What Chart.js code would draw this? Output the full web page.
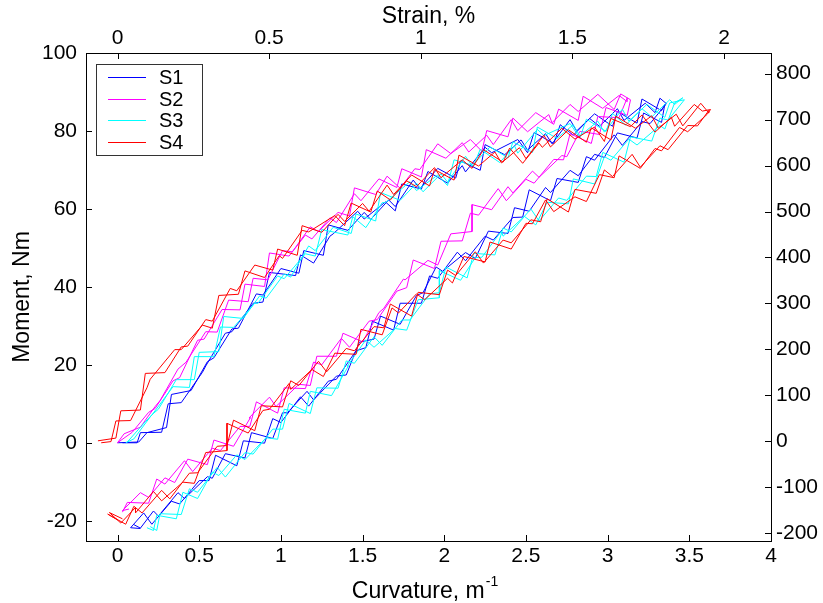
<!DOCTYPE html>
<html>
<head>
<meta charset="utf-8">
<script src="https://cdn.jsdelivr.net/npm/chart.js@4.4.1/dist/chart.umd.min.js"></script>
<style>
  html, body { margin: 0; padding: 0; background: #fff; }
  canvas { display: block; }
</style>
</head>
<body>
<canvas id="chart" width="823" height="603"></canvas>
<script>
// Moment (Nm) vs curvature (1/m), four specimens, two load/unload cycles each.
// Points are [curvature, moment].
const s1Load = [[0,0],[0.13,0.2],[0.18,2.6],[0.30,3.9],[0.33,12.4],[0.45,13.4],[0.55,20.8],[0.59,21.8],[0.70,29.2],[0.74,29.4],[0.85,38.2],[0.89,37.9],[1.00,44.7],[1.11,43.5],[1.14,49.3],[1.26,48.1],[1.29,55.9],[1.41,54.5],[1.51,59.1],[1.55,57.3],[1.66,62.3],[1.70,60.6],[1.81,67.4],[1.85,65.2],[1.96,70.4],[2.07,67.9],[2.10,72.3],[2.22,69.9],[2.25,76.5],[2.37,73.9],[2.47,77.7],[2.51,75.1],[2.62,79.3],[2.66,76.7],[2.77,82.9],[2.81,80],[2.92,84.4],[3.03,81.2],[3.06,85],[3.18,82],[3.21,88.2],[3.33,85.2],[3.35,86.8]];
const s1Unload = [[3.35,86.5],[3.26,81.9],[3.21,82.4],[3.09,76.3],[3.04,79],[2.92,72.5],[2.87,73.4],[2.82,66.8],[2.69,67.8],[2.65,62.1],[2.52,64.9],[2.48,57.9],[2.42,57.8],[2.30,52],[2.25,53],[2.13,46.7],[2.08,48.9],[1.96,42.2],[1.91,42.8],[1.86,35.8],[1.73,35.8],[1.69,28.9],[1.56,31.2],[1.52,24.4],[1.46,23.6],[1.34,16.3],[1.29,15.8],[1.17,9.4],[1.12,11.8],[1.00,5.2],[0.95,6.2],[0.90,-0.1],[0.77,0.5],[0.73,-5.9],[0.60,-3.2],[0.56,-9.7],[0.50,-9.7],[0.38,-15.7],[0.33,-15],[0.21,-20.9],[0.16,-18],[0.08,-21.8],[0.14,-22]];
const s1Load2 = [[0.03,0],[0.12,0],[0.14,2.6],[0.27,2.7],[0.31,10],[0.39,10.3],[0.52,18.1],[0.54,19.7],[0.66,28.1],[0.70,28.5],[0.83,35.8],[0.89,36.1],[0.93,43.7],[1.09,42.9],[1.12,48.2],[1.20,46.1],[1.30,53],[1.32,53.6],[1.47,59.4],[1.51,57.4],[1.64,61.8],[1.70,59.5],[1.74,66.4],[1.86,65.1],[1.90,69.6],[2.02,66.6],[2.11,71.1],[2.13,69.5],[2.25,75.8],[2.29,74.4],[2.45,77.8],[2.51,74.4],[2.55,79.6],[2.67,76.8],[2.71,81.6],[2.79,78.9],[2.89,83.2],[2.95,81.2],[3.06,85.7],[3.10,82.7],[3.23,87.1],[3.29,84.7],[3.32,88.4],[3.36,87]];
const s1Unload2 = [[3.35,86.8],[3.33,82.2],[3.22,84.6],[3.18,78.2],[3.06,79.5],[2.98,73.2],[2.92,74],[2.82,68.5],[2.77,69.9],[2.65,64.2],[2.62,65.5],[2.52,59.4],[2.43,60.3],[2.39,53.7],[2.27,54.3],[2.19,47.3],[2.13,48.8],[1.99,44],[1.95,45.1],[1.87,38.5],[1.83,37.8],[1.73,30.4],[1.61,32.5],[1.57,26.6],[1.48,25.8],[1.40,17.4],[1.34,17.1],[1.20,11],[1.16,13.2],[1.04,7.7],[1.01,7.7],[0.95,1.1],[0.82,2.6],[0.78,-3.9],[0.66,-2.8],[0.58,-9.1],[0.55,-8.7],[0.41,-14.3],[0.37,-12.8],[0.25,-18.8],[0.22,-17.5],[0.14,-21.9],[0.10,-21]];

const s2Load = [[0,0],[0.09,2.7],[0.19,7.8],[0.23,8.8],[0.34,15.9],[0.38,16.7],[0.49,26.3],[0.53,26.6],[0.64,34.2],[0.75,34.1],[0.78,40.7],[0.90,40.1],[0.93,48.7],[1.05,47.9],[1.15,53.3],[1.19,52.3],[1.30,57.7],[1.34,56.5],[1.45,63.9],[1.49,62.1],[1.60,67.7],[1.71,65.5],[1.74,70.3],[1.86,68.2],[1.89,75.2],[2.01,73],[2.11,77],[2.15,74.6],[2.26,78.9],[2.30,76.5],[2.41,82.9],[2.45,80.1],[2.56,84.7],[2.67,81.7],[2.70,85.6],[2.82,82.7],[2.85,88.9],[2.97,85.8],[3.07,89.1],[3.12,87.5]];
const s2Unload = [[3.12,88.5],[3.07,83.4],[2.94,83.7],[2.90,76.8],[2.77,79.3],[2.73,72.6],[2.67,72.7],[2.55,66.6],[2.50,67.6],[2.38,62.1],[2.33,65.2],[2.21,58.4],[2.16,58.9],[2.11,51.8],[1.98,51.7],[1.94,44.7],[1.81,46.9],[1.77,39.8],[1.71,38.9],[1.59,31.6],[1.54,31.2],[1.42,24.5],[1.37,26.8],[1.25,20],[1.20,20.7],[1.15,13.9],[1.02,14.1],[0.98,7.6],[0.85,10.5],[0.81,4.2],[0.75,4.2],[0.63,-2],[0.58,-1.4],[0.46,-7.4],[0.41,-4.6],[0.29,-10.6],[0.24,-9.3],[0.19,-15.5],[0.06,-15.3],[0.03,-17.8]];
const s2Load2 = [[0,0],[0.04,2.3],[0.14,4],[0.23,9.3],[0.26,10.8],[0.37,18.9],[0.42,20.7],[0.54,28.5],[0.61,28.4],[0.68,36.6],[0.80,36.2],[0.83,42.2],[0.92,41.8],[1.01,49.3],[1.07,49],[1.18,55.4],[1.23,54.2],[1.35,59.1],[1.42,58.2],[1.45,65.4],[1.58,63.7],[1.65,68.4],[1.73,65.3],[1.82,70.3],[1.85,70.1],[1.96,76.7],[2.04,74.2],[2.16,77.8],[2.23,74.8],[2.26,80.1],[2.39,78.5],[2.42,83.3],[2.51,79.8],[2.64,84.2],[2.66,82.1],[2.77,86.8],[2.82,85],[2.94,89.4],[3.04,85.5],[3.08,89.5],[3.14,88]];
const s2Unload2 = [[3.14,88],[3.12,84],[2.99,86],[2.95,79.1],[2.83,79.9],[2.75,73.4],[2.72,73.7],[2.58,68.1],[2.54,69.7],[2.42,64.1],[2.39,65.7],[2.29,59.8],[2.17,61.1],[2.17,54.2],[2.04,53.6],[1.96,45.6],[1.90,46.8],[1.76,41.8],[1.75,42],[1.63,34.5],[1.60,33.4],[1.50,25.9],[1.38,28.1],[1.34,22.2],[1.22,22.2],[1.18,14.7],[1.11,15],[0.97,9.3],[0.93,11.7],[0.81,6.6],[0.81,6.2],[0.71,-0.9],[0.59,0.7],[0.55,-5.6],[0.43,-4.2],[0.35,-10.2],[0.29,-9],[0.19,-14],[0.14,-12.8],[0.03,-17.4],[0.07,-17]];

const s3Load = [[0.05,0],[0.10,1.0],[0.21,7.2],[0.25,8.6],[0.36,16.2],[0.47,16.2],[0.50,23.2],[0.62,23.4],[0.65,32.4],[0.77,31.9],[0.87,37.7],[0.91,37.1],[1.02,43.3],[1.06,42.5],[1.17,50.5],[1.21,49.3],[1.32,55.3],[1.43,53.7],[1.46,58.7],[1.58,56.9],[1.61,64.2],[1.73,62.2],[1.83,66.6],[1.87,64.4],[1.98,69],[2.02,66.9],[2.13,73.5],[2.17,71.1],[2.28,75.9],[2.39,73.1],[2.42,77.2],[2.54,74.5],[2.57,81],[2.69,78.1],[2.79,81.6],[2.83,78.7],[2.94,82.5],[2.98,79.7],[3.09,85.6],[3.13,82.5],[3.24,86.8],[3.35,83.5],[3.38,87.2],[3.47,88]];
const s3Unload = [[3.47,88],[3.37,82.8],[3.32,83.3],[3.27,77.4],[3.14,78.5],[3.10,72],[2.97,74.5],[2.93,68.3],[2.87,68.4],[2.75,62.2],[2.70,62.8],[2.58,56.9],[2.53,60],[2.41,54.1],[2.36,55.1],[2.31,48.2],[2.18,48.6],[2.14,42.3],[2.01,45.1],[1.97,38.5],[1.91,38.2],[1.79,31.5],[1.74,31.5],[1.62,25],[1.57,27.2],[1.45,20.4],[1.40,21],[1.35,14],[1.22,14.1],[1.18,7.5],[1.05,10.1],[1.01,3.5],[0.95,3.5],[0.83,-2.9],[0.78,-2.5],[0.66,-8.8],[0.61,-6.3],[0.49,-12.7],[0.44,-11.8],[0.39,-18.4],[0.26,-18.2],[0.24,-22.5],[0.20,-21.5]];
const s3Load2 = [[0.06,0.2],[0.17,5.4],[0.21,7.1],[0.34,14.4],[0.44,14.2],[0.47,22.1],[0.59,22.1],[0.63,29.7],[0.71,29.6],[0.84,35.8],[0.86,35.8],[0.98,42.8],[1.02,42.1],[1.15,48.5],[1.21,47.9],[1.25,54.7],[1.41,53.3],[1.44,58],[1.52,55.2],[1.62,61.6],[1.64,61.6],[1.79,67],[1.83,64.7],[1.96,68.7],[2.02,66],[2.06,72.6],[2.18,71.1],[2.22,75.3],[2.34,71.9],[2.43,76.2],[2.45,74.3],[2.57,80.4],[2.61,78.8],[2.77,81.9],[2.83,78.2],[2.87,83],[2.99,79.9],[3.03,84.5],[3.11,81.5],[3.21,85.7],[3.27,83.6],[3.38,88],[3.41,86.8],[3.46,88.5]];
const s3Unload2 = [[3.46,88.5],[3.41,87.2],[3.35,80.5],[3.32,81.4],[3.18,76.4],[3.13,77.9],[3.02,72.5],[2.98,73.4],[2.92,66.4],[2.79,67.7],[2.76,61.3],[2.63,61.7],[2.56,55.9],[2.49,58.1],[2.36,53],[2.35,54.3],[2.23,47.6],[2.19,47.5],[2.10,41.7],[1.97,44.2],[1.97,37.2],[1.84,36.7],[1.77,28.9],[1.70,29.3],[1.57,24.5],[1.52,26.4],[1.41,19.9],[1.41,19.5],[1.31,12.1],[1.18,13.2],[1.15,7.6],[1.02,8.6],[0.98,0.9],[0.91,1.3],[0.78,-4.3],[0.73,-3.1],[0.62,-8.4],[0.58,-7.5],[0.49,-14.3],[0.40,-12.7],[0.36,-19.5],[0.24,-18.6],[0.22,-22.5],[0.18,-21.8]];

const s4Load = [[-0.12,0.5],[-0.01,1.2],[0.02,8.2],[0.14,8.4],[0.17,17.8],[0.29,18],[0.39,24.6],[0.43,24.8],[0.54,31.6],[0.58,31.2],[0.69,39.6],[0.73,39],[0.84,45.6],[0.95,44.3],[0.98,49.7],[1.10,48.1],[1.13,55.7],[1.25,54],[1.35,58.6],[1.39,56.8],[1.50,61.4],[1.54,59.4],[1.65,66.1],[1.69,63.7],[1.80,68.7],[1.91,65.9],[1.94,70.1],[2.06,67.4],[2.09,73.8],[2.21,71],[2.31,74.6],[2.35,71.8],[2.46,75.7],[2.50,72.9],[2.61,78.9],[2.65,75.9],[2.76,80.3],[2.87,77.1],[2.90,80.8],[3.02,77.7],[3.05,83.8],[3.17,80.7],[3.27,83.9],[3.31,80.7],[3.42,84.3],[3.46,81.3],[3.57,87.1],[3.62,84.6]];
const s4Unload = [[3.62,85.3],[3.55,81.3],[3.49,81.4],[3.37,75.2],[3.32,76.2],[3.20,70.7],[3.15,74],[3.03,68.3],[2.98,70],[2.93,64],[2.80,65],[2.76,59.2],[2.63,62.6],[2.59,56.7],[2.53,57.2],[2.41,51.3],[2.36,52],[2.24,46.1],[2.19,49],[2.07,42.9],[2.02,44.3],[1.97,38],[1.84,38.6],[1.80,32.5],[1.67,35.6],[1.63,29.5],[1.57,29.8],[1.45,23.6],[1.40,24.2],[1.28,18.2],[1.23,20.9],[1.11,14.7],[1.06,15.9],[1.01,9.2],[0.88,9.5],[0.84,3.1],[0.71,5.8],[0.67,-0.7],[0.61,-0.9],[0.49,-7.7],[0.44,-7.8],[0.32,-14.4],[0.27,-12.2],[0.15,-18],[0.10,-16.3],[0.05,-20.9],[-0.06,-18.3],[0.00,-19.8]];
const s4Load2 = [[-0.1,0],[-0.04,0.3],[-0.01,5.6],[0.08,5.7],[0.18,14.1],[0.20,16.3],[0.35,23.9],[0.39,23.9],[0.52,30.2],[0.58,29.4],[0.62,37.8],[0.74,38.1],[0.78,44.1],[0.90,42.4],[0.99,48],[1.01,47.3],[1.13,54.5],[1.17,54.1],[1.33,58.3],[1.39,55.7],[1.43,61.5],[1.55,59.2],[1.59,64.6],[1.67,62.3],[1.77,67.2],[1.83,65.7],[1.94,70.6],[1.98,68],[2.11,72.6],[2.17,70.4],[2.24,75.2],[2.36,72],[2.40,75.6],[2.48,71.7],[2.58,76.9],[2.60,75.8],[2.72,80.7],[2.80,77.9],[2.92,81],[2.98,77.3],[3.02,83.2],[3.14,81.1],[3.21,84.1],[3.29,79.7],[3.39,83.5],[3.41,81.2],[3.53,86.8],[3.58,85.1],[3.63,85.5]];
const s4Unload2 = [[3.63,85.5],[3.61,84.3],[3.49,79.8],[3.44,80.9],[3.33,74.9],[3.29,75.5],[3.20,70.4],[3.07,73.6],[3.04,68],[2.95,68.8],[2.87,61.9],[2.80,63.1],[2.67,59.3],[2.62,62.3],[2.54,56.2],[2.50,56.3],[2.41,49.7],[2.28,51.5],[2.25,46.4],[2.12,47.8],[2.05,41],[2.02,42.2],[1.88,36.7],[1.83,38.2],[1.72,33.3],[1.68,34.6],[1.62,27.7],[1.49,29.1],[1.46,22.7],[1.33,23],[1.26,17],[1.19,18.8],[1.06,13.7],[1.05,15.2],[0.93,8.6],[0.89,8.3],[0.80,2.5],[0.67,5],[0.67,-2],[0.54,-2.5],[0.47,-10.4],[0.40,-10.1],[0.27,-14.9],[0.22,-12.5],[0.11,-18],[0.11,-16.6],[0.02,-20.6],[-0.05,-17.9],[0.03,-19.5]];

const seriesNames = ["S1", "S2", "S3", "S4"];
const seriesColors = ["#0000ff", "#ff00ff", "#00ffff", "#ff0000"];

const curvatureTicks = [0, 0.5, 1, 1.5, 2, 2.5, 3, 3.5, 4];
const strainTicks = [0, 0.5, 1, 1.5, 2];
const momentTicks = [-20, 0, 20, 40, 60, 80, 100];
const rightTicks = [-200, -100, 0, 100, 200, 300, 400, 500, 600, 700, 800];

const FONT = "'Liberation Sans', Arial, Helvetica, sans-serif";

// One polyline per cycle; a null point breaks the line between cycles.
const GAP = { x: null, y: null };
const toPoints = (...branches) => {
    const pts = [];
    for (let i = 0; i < branches.length; i += 2) {
        if (i > 0) pts.push(GAP);
        for (const [x, y] of branches[i].concat(branches[i + 1])) pts.push({ x, y });
    }
    return pts;
};
const fixedTicks = (values) => (scale) => {
    scale.ticks = values.map((value) => ({ value }));
};

// MATLAB-style tick marks, drawn inwards from every side of the box.
const inwardTicks = {
    id: "inwardTicks",
    afterDraw(chart) {
        const { ctx, chartArea: a, scales } = chart;
        const len = 6;
        ctx.save();
        ctx.strokeStyle = "#000";
        ctx.lineWidth = 1;
        ctx.beginPath();
        for (const scale of Object.values(scales)) {
            for (const tick of scale.ticks) {
                const p = Math.round(scale.getPixelForValue(tick.value)) + 0.5;
                if (scale.id === "x") {
                    ctx.moveTo(p, a.bottom); ctx.lineTo(p, a.bottom - len);
                } else if (scale.id === "x2") {
                    ctx.moveTo(p, a.top); ctx.lineTo(p, a.top + len);
                } else if (scale.id === "y") {
                    ctx.moveTo(a.left, p); ctx.lineTo(a.left + len, p);
                } else {
                    ctx.moveTo(a.right, p); ctx.lineTo(a.right - len, p);
                }
            }
        }
        ctx.stroke();
        ctx.restore();
    },
};

// Bottom axis title with a raised "-1".
const curvatureTitle = {
    id: "curvatureTitle",
    afterDraw(chart) {
        const { ctx, chartArea: a } = chart;
        const main = "Curvature, m";
        const sup = "-1";
        ctx.save();
        ctx.fillStyle = "#000";
        ctx.textBaseline = "alphabetic";
        ctx.font = `23px ${FONT}`;
        const w1 = ctx.measureText(main).width;
        ctx.font = `14px ${FONT}`;
        const w2 = ctx.measureText(sup).width;
        const x = (a.left + a.right) / 2 - 4 - (w1 + w2) / 2;
        ctx.font = `23px ${FONT}`;
        ctx.fillText(main, x, 598);
        ctx.font = `14px ${FONT}`;
        ctx.fillText(sup, x + w1 + 1, 586);
        ctx.restore();
    },
};

// Boxed legend in the upper left corner of the plot.
const legendBox = {
    id: "legendBox",
    afterDraw(chart) {
        const ctx = chart.ctx;
        const x0 = 96, y0 = 64, w = 106, h = 91;
        ctx.save();
        ctx.fillStyle = "#fff";
        ctx.fillRect(x0, y0, w, h);
        ctx.strokeStyle = "#333";
        ctx.lineWidth = 1;
        ctx.strokeRect(x0 + 0.5, y0 + 0.5, w, h);
        ctx.font = `20px ${FONT}`;
        ctx.textBaseline = "middle";
        chart.data.datasets.forEach((ds, i) => {
            const y = Math.round(y0 + 13 + i * 21.7) + 0.5;
            ctx.strokeStyle = ds.borderColor;
            ctx.beginPath();
            ctx.moveTo(108, y);
            ctx.lineTo(146, y);
            ctx.stroke();
            ctx.fillStyle = "#000";
            ctx.fillText(ds.label, 159, y + 1);
        });
        ctx.restore();
    },
};

const seriesData = [
    toPoints(s1Load, s1Unload, s1Load2, s1Unload2),
    toPoints(s2Load, s2Unload, s2Load2, s2Unload2),
    toPoints(s3Load, s3Unload, s3Load2, s3Unload2),
    toPoints(s4Load, s4Unload, s4Load2, s4Unload2),
];

const tickFont = { family: FONT, size: 21 };
const titleFont = { family: FONT, size: 23 };

new Chart(document.getElementById("chart"), {
    type: "scatter",
    data: {
        datasets: seriesNames.map((name, i) => ({
            label: name,
            data: seriesData[i],
            borderColor: seriesColors[i],
            backgroundColor: seriesColors[i],
            borderWidth: 1,
            showLine: true,
            spanGaps: false,
            pointRadius: 0,
            tension: 0,
            // later series are drawn on top, as in the original plot
            order: seriesNames.length - i,
        })),
    },
    options: {
        responsive: false,
        animation: false,
        devicePixelRatio: 1,
        layout: { padding: 0 },
        plugins: {
            legend: { display: false },
            tooltip: { enabled: false },
        },
        scales: {
            x: {
                type: "linear",
                position: "bottom",
                min: -0.193,
                max: 4,
                afterBuildTicks: fixedTicks(curvatureTicks),
                afterFit: (s) => { s.height = 62; },
                grid: { display: false, drawTicks: false },
                border: { display: true, color: "#000", width: 1 },
                ticks: {
                    color: "#000", font: tickFont, padding: 3,
                    autoSkip: false, maxRotation: 0, callback: (v) => String(v),
                },
                title: { display: false },
            },
            x2: {
                type: "linear",
                position: "top",
                min: -0.104,
                max: 2.155,
                afterBuildTicks: fixedTicks(strainTicks),
                afterFit: (s) => { s.height = 53; },
                grid: { display: false, drawTicks: false },
                border: { display: true, color: "#000", width: 1 },
                ticks: {
                    color: "#000", font: tickFont, padding: 2,
                    autoSkip: false, maxRotation: 0, callback: (v) => String(v),
                },
                title: {
                    display: true, text: "Strain, %", color: "#000",
                    font: titleFont, padding: { top: 3, bottom: 0 },
                },
            },
            y: {
                type: "linear",
                position: "left",
                min: -25.2,
                max: 100,
                afterBuildTicks: fixedTicks(momentTicks),
                afterFit: (s) => { s.width = 86; },
                grid: { display: false, drawTicks: false },
                border: { display: true, color: "#000", width: 1 },
                ticks: {
                    color: "#000", font: tickFont, padding: 9,
                    autoSkip: false, callback: (v) => String(v),
                },
                title: {
                    display: true, text: "Moment, Nm", color: "#000",
                    font: titleFont, padding: { top: 9, bottom: 0 },
                },
            },
            y2: {
                type: "linear",
                position: "right",
                min: -217,
                max: 845,
                afterBuildTicks: fixedTicks(rightTicks),
                afterFit: (s) => { s.width = 52; },
                grid: { display: false, drawTicks: false },
                border: { display: true, color: "#000", width: 1 },
                ticks: {
                    color: "#000", font: tickFont, padding: 5,
                    autoSkip: false, callback: (v) => String(v),
                },
            },
        },
    },
    plugins: [inwardTicks, curvatureTitle, legendBox],
});
</script>
</body>
</html>
